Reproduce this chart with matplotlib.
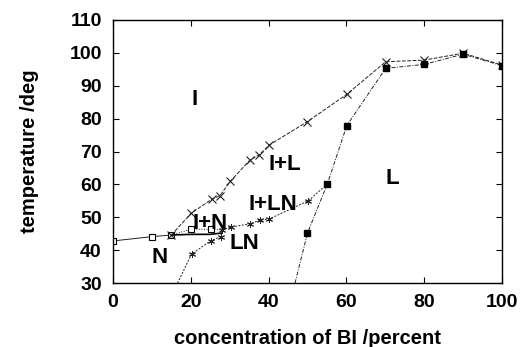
"""
Phase diagram of the BI mixture: transition temperatures vs concentration.
"""

import matplotlib
matplotlib.use('Agg')
from matplotlib import pyplot as plt

plt.rcParams['font.family'] = ['Liberation Sans', 'DejaVu Sans']
plt.rcParams['font.weight'] = 'bold'

# I -> N (open squares)
iso_n_x = [0, 10, 15]
iso_n_y = [42.8, 44.1, 44.6]

# I / I+N (open squares, dotted)
i_in_x = [15, 20.1, 25.3, 28]
i_in_y = [44.6, 46.4, 46.3, 46.2]

# N / I+N (solid)
n_in_x = [15, 20, 25, 28]
n_in_y = [44.6, 44.8, 44.8, 45.2]

# N / LN (stars)
n_ln_x = [16.6, 20.2, 25.2, 27.7, 28]
n_ln_y = [30, 38.8, 42.9, 44.1, 46.2]

# LN / I+LN (stars)
ln_iln_x = [28, 30.3, 35.2, 37.7, 40.2, 50.2, 55.1, 56]
ln_iln_y = [46.2, 47.0, 48.0, 49.1, 49.5, 55.0, 60.1, 61]

# I / I+L (crosses)
i_il_x = [15, 20.1, 25.4, 27.5, 30.2, 35.2, 37.6, 40.2, 50, 60.1, 70.1, 80, 90, 100]
i_il_y = [44.6, 51.2, 55.5, 56.6, 61.0, 67.4, 69.0, 72.0, 79.1, 87.4, 97.3, 97.8, 99.9, 96.3]

# L boundary (filled squares)
l_x = [46.8, 50, 55.1, 60.1, 70.1, 80, 90, 100]
l_y = [30, 45.2, 60.1, 77.9, 95.3, 96.5, 99.6, 96.1]

phase_labels = ['I', 'I+L', 'I+LN', 'I+N', 'LN', 'N', 'L']
phase_x = [20.9, 44.2, 41.2, 24.9, 33.8, 12.1, 71.8]
phase_y = [85.9, 65.9, 54.0, 48.2, 41.9, 37.9, 61.7]

fig = plt.figure(figsize=(5.26, 3.47), dpi=100)
ax = fig.add_axes([0.2148, 0.1844, 0.7396, 0.758])

lw = 0.7
ink = '#222222'
ax.plot(iso_n_x, iso_n_y, '-', color=ink, lw=lw, marker='s', ms=4.5,
        mfc='white', mec='black', mew=0.8)
ax.plot(i_in_x, i_in_y, ':', color=ink, lw=lw, marker='s', ms=4.5,
        mfc='white', mec='black', mew=0.8, markevery=[1, 2])
ax.plot(n_in_x, n_in_y, '-', color='black', lw=1.2)
ax.plot(n_ln_x, n_ln_y, color=ink, lw=lw, ls=(0, (2, 1.5)), marker=(6, 2, 0),
        ms=5, mew=0.7, markevery=[1, 2, 3])
ax.plot(ln_iln_x, ln_iln_y, color=ink, lw=lw, ls=(0, (2, 1.5)), marker=(6, 2, 0),
        ms=5, mew=0.7, markevery=[0, 1, 2, 3, 4, 5])
ax.plot(i_il_x, i_il_y, color=ink, lw=lw, ls=(0, (4, 1.5)), marker='x',
        ms=5.5, mew=0.8)
ax.plot(l_x, l_y, color=ink, lw=lw, ls=(0, (4, 1.5, 1, 1.5)), marker='s',
        ms=5, mfc='black', mec='black', markevery=list(range(1, len(l_x))))

for lab, px, py in zip(phase_labels, phase_x, phase_y):
    ax.text(px, py, lab, fontsize=16, fontweight='bold', ha='center', va='center')

ax.set_xlim(0, 100)
ax.set_ylim(30, 110)
ax.set_xticks(range(0, 101, 20))
ax.set_yticks(range(30, 111, 10))
ax.tick_params(direction='in', length=4, width=0.8, top=True, right=True,
               labelsize=14, pad=8)
for s in ax.spines.values():
    s.set_linewidth(1.0)
ax.set_xlabel('concentration of BI /percent', fontsize=14.5, fontweight='bold', labelpad=13)
ax.set_ylabel('temperature /deg', fontsize=14.5, fontweight='bold', labelpad=22)

fig.savefig('out.png', dpi=100)
